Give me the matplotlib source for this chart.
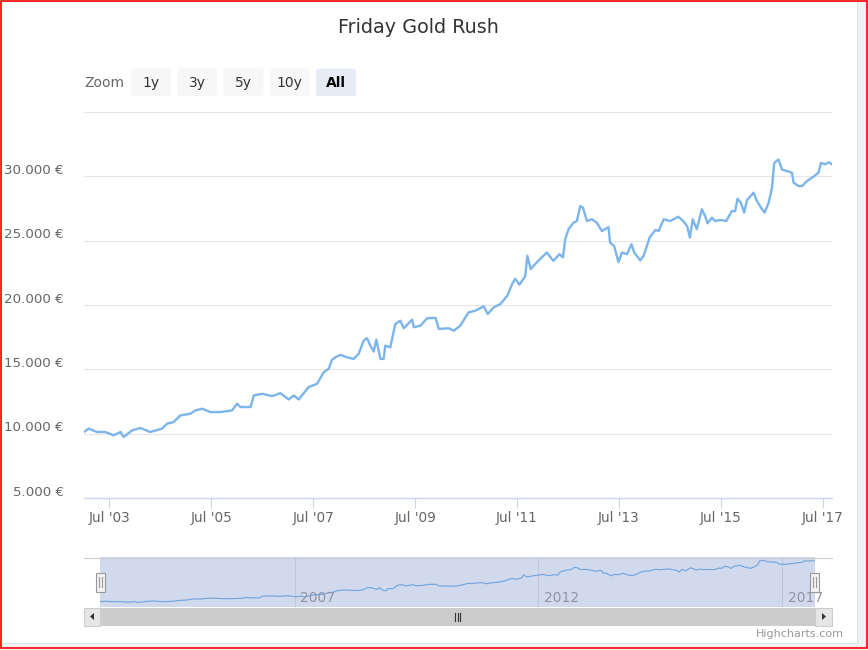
import matplotlib
matplotlib.use("Agg")
import matplotlib.pyplot as plt
from matplotlib.patches import Rectangle, FancyBboxPatch, Polygon
from matplotlib.transforms import ScaledTranslation, blended_transform_factory
import pandas as pd

# ---------------- data ----------------
title = "Friday Gold Rush"
dates = [
    "2003-01-01", "2003-02-03", "2003-04-05", "2003-06-03", "2003-08-01", "2003-09-20", "2003-10-12", "2003-12-12",
    "2004-02-09", "2004-04-20", "2004-07-13", "2004-08-18", "2004-10-04", "2004-11-21",
    "2005-02-02", "2005-03-10", "2005-04-27", "2005-06-26", "2005-09-06", "2005-11-27",
    "2006-01-02", "2006-01-26", "2006-04-08", "2006-05-02", "2006-06-30", "2006-09-10", "2006-11-08",
    "2007-01-07", "2007-02-12", "2007-03-19", "2007-05-30", "2007-07-29", "2007-09-15", "2007-10-20", "2007-11-13", "2007-12-07",
    "2008-01-12", "2008-02-28", "2008-04-16", "2008-05-22", "2008-06-27", "2008-07-21", "2008-08-14", "2008-09-07", "2008-09-26", "2008-10-25", "2008-11-17", "2008-11-29",
    "2009-01-04", "2009-02-09", "2009-03-17", "2009-04-10", "2009-06-09", "2009-06-21", "2009-08-08", "2009-09-25", "2009-11-24", "2009-12-17",
    "2010-02-26", "2010-04-04", "2010-05-20", "2010-07-19", "2010-09-06", "2010-11-04", "2010-12-03",
    "2011-01-15", "2011-03-04", "2011-04-22", "2011-05-28", "2011-06-18", "2011-07-18", "2011-08-28", "2011-09-13", "2011-10-07", "2011-11-19",
    "2012-01-30", "2012-03-18", "2012-04-30", "2012-05-25", "2012-06-10", "2012-07-04", "2012-08-09", "2012-09-02", "2012-09-26", "2012-10-15", "2012-11-13", "2012-12-18",
    "2013-01-23", "2013-02-28", "2013-04-16", "2013-04-28", "2013-05-27", "2013-06-27", "2013-07-21", "2013-08-27", "2013-09-28", "2013-10-18", "2013-11-30", "2013-12-24",
    "2014-02-05", "2014-03-18", "2014-04-11", "2014-05-17", "2014-07-04", "2014-08-29", "2014-10-04", "2014-11-02", "2014-11-21", "2014-12-11",
    "2015-01-09", "2015-02-14", "2015-03-10", "2015-03-27", "2015-04-27", "2015-05-21", "2015-06-26", "2015-08-08", "2015-09-17", "2015-10-11", "2015-10-28", "2015-11-21", "2015-12-15",
    "2016-01-03", "2016-02-20", "2016-03-15", "2016-04-13", "2016-05-09", "2016-06-07", "2016-07-01", "2016-07-17", "2016-08-17", "2016-09-10", "2016-10-16", "2016-11-21", "2016-12-03",
    "2017-01-08", "2017-02-02", "2017-03-08", "2017-04-24", "2017-05-30", "2017-06-17", "2017-07-17", "2017-08-11", "2017-09-04",
]
values = [
    10130, 10390, 10130, 10130, 9870, 10130, 9740, 10260,
    10440, 10130, 10390, 10780, 10900, 11420,
    11550, 11810, 11940, 11680, 11680, 11810,
    12330, 12070, 12070, 12970, 13100, 12920, 13150,
    12660, 12970, 12660, 13620, 13880, 14780, 15040, 15740, 15940,
    16120, 15940, 15810, 16200, 17230, 17420, 16840, 16380, 17310, 15810, 15810, 16840,
    16710, 18530, 18780, 18190, 18860, 18270, 18390, 18970, 19000, 18140,
    18190, 18000, 18390, 19430, 19560, 19900, 19300,
    19820, 20080, 20720, 21650, 22040, 21580, 22220, 23820, 22790, 23310,
    24080, 23430, 23950, 23700, 25110, 25890, 26400, 26530, 27690, 27570, 26530, 26660,
    26400, 25750, 26050, 24850, 24590, 23330, 24080, 23950, 24730, 24080, 23470, 23820,
    25240, 25830, 25750, 26660, 26530, 26860, 26530, 26100, 25240, 26660,
    25890, 27440, 26920, 26350, 26790, 26530, 26610, 26530, 27300, 27300, 28260, 27950, 27180,
    28140, 28730, 28080, 27570, 27180, 27950, 29110, 31050, 31310, 30540, 30410, 30280, 29500,
    29240, 29240, 29630, 29970, 30280, 31050, 30930, 31100, 30930,
]
y_label_values = [5000, 10000, 15000, 20000, 25000, 30000]
y_grid_values = [10000, 15000, 20000, 25000, 30000, 35000]
x_tick_dates = ["2003-07-01", "2005-07-01", "2007-07-01", "2009-07-01",
                "2011-07-01", "2013-07-01", "2015-07-01", "2017-07-01"]
x_tick_labels = ["Jul '03", "Jul '05", "Jul '07", "Jul '09",
                 "Jul '11", "Jul '13", "Jul '15", "Jul '17"]
nav_tick_dates = ["2007-01-01", "2012-01-01", "2017-01-01"]
nav_tick_labels = ["2007", "2012", "2017"]
zoom_label = "Zoom"
zoom_buttons = ["1y", "3y", "5y", "10y", "All"]
selected_button = "All"
credits = "Highcharts.com"

# ---------------- figure ----------------
W, H = 868, 650
fig = plt.figure(figsize=(W / 100, H / 100), dpi=100)
fig.patch.set_facecolor("white")


def frect(x0, y0, x1, y1):
    return [x0 / W, 1 - y1 / H, (x1 - x0) / W, (y1 - y0) / H]


def px(n):
    return ScaledTranslation(0, n / 100, fig.dpi_scale_trans)


bg = fig.add_axes([0, 0, 1, 1], zorder=0)
bg.set_xlim(0, W)
bg.set_ylim(H, 0)
bg.axis("off")

# page / card background
bg.add_patch(Rectangle((0, 0), W, H, facecolor="#eef1f1", edgecolor="none"))
bg.add_patch(Rectangle((1, 1), 856, 642, facecolor="white", edgecolor="#e0e3e3", linewidth=0.8))
bg.add_patch(Rectangle((0.7, 0.7), W - 1.9, H - 2.4, facecolor="none", edgecolor="#ff0000", linewidth=1.2))

# title
bg.text(418.5, 33.3, title, ha="center", va="baseline", fontsize=13.8, color="#333333")

# range selector
bg.text(84, 87, zoom_label, ha="left", va="baseline", fontsize=10, color="#666666")
bx = 131
for lab in zoom_buttons:
    sel = lab == selected_button
    bg.add_patch(FancyBboxPatch((bx, 68.5), 40, 27.5,
                                boxstyle="round,pad=0,rounding_size=2.5",
                                facecolor="#e6ebf5" if sel else "#f7f7f7", edgecolor="none"))
    bg.text(bx + 20, 87, lab, ha="center", va="baseline", fontsize=10, color="#000000" if sel else "#333333",
            fontweight="bold" if sel else "normal")
    bx += 46.25

# ---------------- main chart ----------------
dt = pd.to_datetime(dates)
ax = fig.add_axes(frect(84, 112, 832, 498), zorder=2)
ax.patch.set_alpha(0)
for g in y_grid_values:
    ax.axhline(g, color="#e6e6e6", linewidth=0.8, zorder=0)
ax.plot(dt, values, color="#7cb5ec", linewidth=1.7, solid_joinstyle="round", zorder=3)
ax.set_xlim(dt[0], dt[-1])
ax.set_ylim(5000, 35000)
for s in ["top", "right", "left"]:
    ax.spines[s].set_visible(False)
ax.spines["bottom"].set_color("#ccd6eb")
ax.spines["bottom"].set_linewidth(1.0)
ax.set_yticks([])
ax.set_xticks(pd.to_datetime(x_tick_dates))
ax.set_xticklabels([""] * len(x_tick_dates))
ax.tick_params(axis="x", length=7.4, width=0.8, color="#ccd6eb")

ytr = blended_transform_factory(ax.transAxes, ax.transData)
for v in y_label_values:
    lab = f"{v:,.0f} €".replace(",", ".")
    ax.text(-20 / 748, v, lab, transform=ytr + px(2.3), ha="right", va="baseline",
            fontsize=9.6, color="#666666")

xtr = blended_transform_factory(ax.transData, ax.transAxes)
for d, lab in zip(pd.to_datetime(x_tick_dates), x_tick_labels):
    ax.text(d, 0, lab, transform=xtr + px(-24), ha="center", va="baseline",
            fontsize=9.8, color="#666666", clip_on=False)

# ---------------- navigator ----------------
bg.add_patch(Rectangle((100, 557), 715, 50, facecolor="#d1daed", edgecolor="none"))
nav = fig.add_axes(frect(100, 557, 815, 607), zorder=2)
nav.patch.set_alpha(0)
nav.axis("off")
nav.set_xlim(dt[0], dt[-1])
nav.set_ylim(7400, 33000)
for d in pd.to_datetime(nav_tick_dates):
    nav.axvline(d, color="#bfc8db", linewidth=0.8, zorder=1)
nav.plot(dt, values, color="#73a6df", linewidth=0.85, zorder=2)
ntr = blended_transform_factory(nav.transData, nav.transAxes)
for d, lab in zip(pd.to_datetime(nav_tick_dates), nav_tick_labels):
    nav.text(d, 0, lab, transform=ntr + ScaledTranslation(5.5 / 100, 4.5 / 100, fig.dpi_scale_trans),
             ha="left", va="baseline", fontsize=10, color="#8e94a2", clip_on=False)

fg = fig.add_axes([0, 0, 1, 1], zorder=5)
fg.patch.set_alpha(0)
fg.set_xlim(0, W)
fg.set_ylim(H, 0)
fg.axis("off")

fg.plot([84, 832], [557.5, 557.5], color="#cccccc", linewidth=0.8)

# handles
for hx in (100.5, 814.5):
    fg.add_patch(Rectangle((hx - 4.5, 572.5), 9, 19, facecolor="#f2f2f2", edgecolor="#999999", linewidth=0.8))
    fg.plot([hx - 1.3, hx - 1.3], [577, 587], color="#999999", linewidth=0.8)
    fg.plot([hx + 1.3, hx + 1.3], [577, 587], color="#999999", linewidth=0.8)

# scrollbar
fg.add_patch(Rectangle((84, 607.5), 748, 18, facecolor="#f2f2f2", edgecolor="none"))
fg.add_patch(Rectangle((100, 607.5), 715, 18, facecolor="#cccccc", edgecolor="none"))
fg.add_patch(Rectangle((84, 607.5), 16, 18, facecolor="#e6e6e6", edgecolor="#cccccc", linewidth=0.8))
fg.add_patch(Rectangle((815, 607.5), 17, 18, facecolor="#e6e6e6", edgecolor="#cccccc", linewidth=0.8))
fg.add_patch(Polygon([(90, 616.5), (94, 613), (94, 620)], closed=True, facecolor="#333333", edgecolor="none"))
fg.add_patch(Polygon([(826, 616.5), (822, 613), (822, 620)], closed=True, facecolor="#333333", edgecolor="none"))
for gx in (455, 457.5, 460):
    fg.plot([gx, gx], [613, 620.5], color="#333333", linewidth=0.8)

# credits
fg.text(844, 637, credits, ha="right", va="baseline", fontsize=8, color="#999999")

fig.savefig("out.png", dpi=100, facecolor=fig.get_facecolor())
